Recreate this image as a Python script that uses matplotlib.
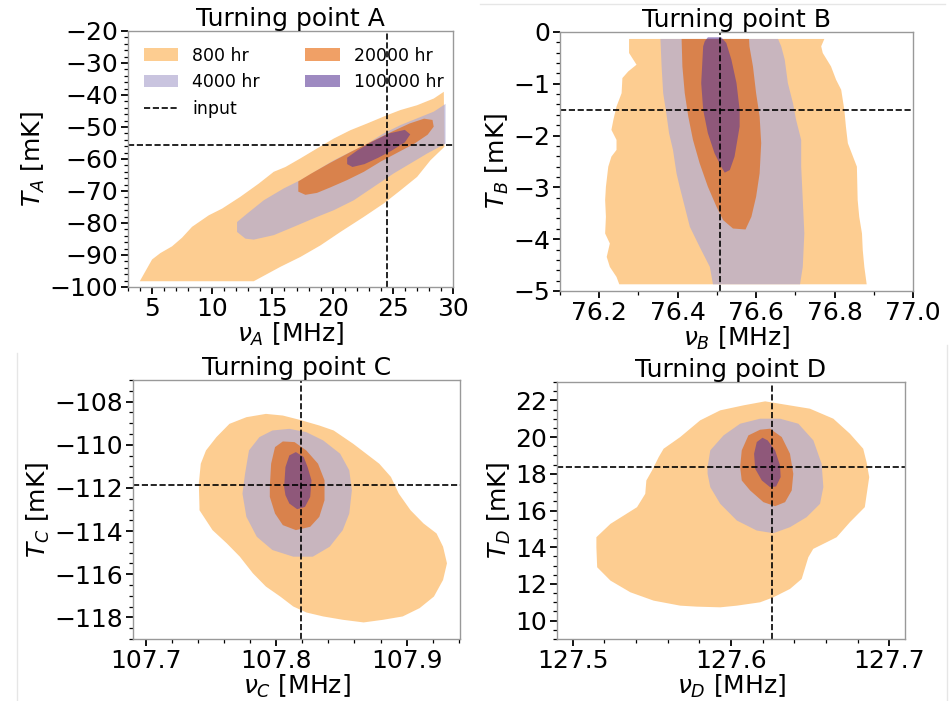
import numpy as np
import matplotlib
matplotlib.use("Agg")
import matplotlib.pyplot as plt
from matplotlib.ticker import MultipleLocator
from matplotlib.lines import Line2D

# integration times and their colours / alphas
labels = ["800 hr", "4000 hr", "20000 hr", "100000 hr"]
colors = ["#fdb863", "#b2abd2", "#e66101", "#5e3c99"]
alphas = [0.7, 0.7, 0.6, 0.6]

# input (true) values of the turning points
nu_in = [24.5, 76.507, 107.819, 127.6257]
T_in = [-55.5, -1.5, -111.85, 18.38]

# contour outlines, (nu, T) pairs
A_800 = [(3.98, -98.2), (5.0, -91.4), (5.69, -89.4), (6.66, -87.3), (7.49, -84.6), (8.32, -81.2),
         (9.71, -77.6), (10.82, -75.5), (12.34, -71.8), (13.86, -67.7), (15.11, -64.0), (16.08, -62.5),
         (17.33, -59.8), (18.71, -56.7), (20.10, -53.6), (21.48, -51.0), (22.87, -48.9), (24.53, -46.3),
         (25.64, -44.7), (27.02, -43.2), (28.41, -41.1), (29.24, -39.0), (29.29, -56.2), (28.13, -60.4),
         (27.02, -65.6), (25.64, -69.8), (24.25, -73.9), (22.59, -78.1), (20.65, -82.8), (18.99, -87.0),
         (17.33, -90.6), (15.66, -93.7), (13.45, -98.2)]
A_4000 = [(12.06, -79.7), (12.89, -77.1), (14.28, -72.9), (15.94, -69.2), (17.33, -66.6), (18.71, -63.5),
          (20.10, -60.4), (21.48, -57.8), (22.87, -55.2), (24.25, -52.0), (25.64, -49.4), (27.02, -47.3),
          (28.41, -45.2), (29.38, -42.8), (29.38, -55.2), (27.85, -58.3), (26.47, -61.4), (25.08, -64.5),
          (23.42, -68.7), (21.76, -72.9), (20.10, -76.0), (18.71, -78.1), (16.77, -81.2), (15.11, -83.8),
          (13.45, -85.2), (12.76, -84.9), (12.06, -82.8)]
A_20000 = [(17.15, -67.0), (18.20, -64.6), (19.80, -61.2), (21.50, -57.8), (23.20, -54.6), (24.90, -51.5),
           (26.40, -48.9), (27.60, -47.4), (28.30, -47.8), (28.40, -49.9), (27.90, -52.4), (26.80, -55.2),
           (25.40, -58.0), (24.00, -60.8), (22.60, -64.0), (21.20, -66.6), (19.80, -68.9), (18.70, -70.6),
           (17.74, -71.2), (17.15, -70.2)]
A_100000 = [(21.21, -59.6), (22.10, -57.2), (23.30, -54.6), (24.70, -52.0), (26.00, -50.9), (26.45, -52.3),
            (26.00, -54.8), (24.90, -57.4), (23.80, -59.6), (22.65, -61.6), (21.65, -62.5), (21.21, -61.6)]

B_800 = [(76.276, -0.135), (76.276, -0.406), (76.295, -0.632), (76.274, -0.761), (76.259, -0.890),
         (76.257, -1.181), (76.244, -1.439), (76.236, -1.697), (76.231, -1.890), (76.244, -2.084),
         (76.244, -2.277), (76.231, -2.406), (76.223, -2.600), (76.217, -2.987), (76.215, -3.245),
         (76.217, -3.568), (76.215, -3.890), (76.227, -4.084), (76.219, -4.342), (76.227, -4.535),
         (76.244, -4.729), (76.251, -4.871), (76.882, -4.871), (76.876, -4.535), (76.872, -4.213),
         (76.870, -3.890), (76.863, -3.568), (76.859, -3.245), (76.857, -2.600), (76.834, -2.148),
         (76.829, -1.826), (76.825, -1.503), (76.817, -1.116), (76.804, -0.923), (76.791, -0.665),
         (76.770, -0.406), (76.766, -0.277), (76.774, -0.135)]
B_4000 = [(76.356, -0.135), (76.359, -0.665), (76.363, -1.181), (76.371, -1.568), (76.378, -1.955),
          (76.388, -2.277), (76.397, -2.729), (76.405, -2.987), (76.418, -3.374), (76.431, -3.761),
          (76.456, -4.148), (76.482, -4.535), (76.490, -4.871), (76.712, -4.871), (76.719, -4.535),
          (76.723, -3.890), (76.719, -3.245), (76.715, -2.600), (76.715, -2.084), (76.702, -1.697),
          (76.694, -1.374), (76.681, -0.987), (76.673, -0.535), (76.664, -0.277), (76.656, -0.135)]
B_20000 = [(76.410, -0.135), (76.412, -0.665), (76.418, -1.181), (76.427, -1.632), (76.439, -2.084),
           (76.456, -2.535), (76.477, -2.987), (76.499, -3.374), (76.516, -3.632), (76.541, -3.794),
           (76.573, -3.813), (76.588, -3.568), (76.600, -3.181), (76.609, -2.729), (76.613, -2.148),
           (76.609, -1.632), (76.600, -1.181), (76.592, -0.665), (76.583, -0.277), (76.582, -0.135)]
B_100000 = [(76.469, -0.181), (76.465, -0.277), (76.460, -0.987), (76.465, -1.503), (76.477, -1.955),
            (76.494, -2.342), (76.511, -2.600), (76.520, -2.716), (76.533, -2.665), (76.545, -2.406),
            (76.558, -1.826), (76.558, -1.503), (76.550, -0.987), (76.537, -0.535), (76.524, -0.213),
            (76.511, -0.103), (76.477, -0.103)]

C_800 = [(107.741, -112.877), (107.7405, -111.80), (107.742, -110.877), (107.746, -110.262),
         (107.754, -109.646), (107.764, -109.031), (107.777, -108.723), (107.792, -108.569),
         (107.805, -108.646), (107.818, -108.846), (107.833, -109.108), (107.844, -109.338),
         (107.859, -109.954), (107.869, -110.415), (107.879, -110.877), (107.888, -111.492),
         (107.894, -112.262), (107.903, -113.031), (107.913, -113.646), (107.923, -114.108),
         (107.928, -114.723), (107.931, -115.492), (107.928, -116.262), (107.921, -117.031),
         (107.910, -117.569), (107.897, -117.954), (107.882, -118.108), (107.867, -118.231),
         (107.851, -118.108), (107.836, -117.954), (107.823, -117.769), (107.813, -117.492),
         (107.803, -117.031), (107.792, -116.569), (107.782, -115.954), (107.772, -115.185),
         (107.762, -114.569), (107.751, -113.954), (107.741, -113.031)]
C_4000 = [(107.774, -112.262), (107.776, -111.338), (107.779, -110.262), (107.787, -109.646),
          (107.797, -109.338), (107.810, -109.262), (107.823, -109.415), (107.836, -109.800),
          (107.849, -110.415), (107.856, -111.185), (107.858, -112.108), (107.856, -113.185),
          (107.851, -113.954), (107.841, -114.723), (107.828, -115.185), (107.813, -115.185),
          (107.797, -114.877), (107.785, -114.262), (107.777, -113.338)]
C_20000 = [(107.795, -111.954), (107.796, -110.877), (107.799, -110.108), (107.805, -109.846),
           (107.814, -109.877), (107.823, -110.262), (107.832, -110.877), (107.837, -111.646),
           (107.837, -112.569), (107.833, -113.338), (107.826, -113.800), (107.815, -113.954),
           (107.805, -113.723), (107.799, -113.185), (107.795, -112.415)]
C_100000 = [(107.806, -111.954), (107.807, -111.031), (107.810, -110.492), (107.815, -110.338),
            (107.821, -110.569), (107.824, -111.031), (107.827, -111.646), (107.826, -112.415),
            (107.822, -112.877), (107.816, -112.985), (107.810, -112.723), (107.807, -112.338)]

D_800 = [(127.5149, 14.545), (127.5238, 15.273), (127.5322, 15.727), (127.5406, 16.182), (127.5458, 16.909),
         (127.5465, 17.636), (127.5501, 18.182), (127.5543, 18.909), (127.5574, 19.364), (127.5679, 20.000),
         (127.5805, 20.909), (127.5932, 21.455), (127.6079, 21.727), (127.6216, 21.945), (127.6331, 21.782),
         (127.6499, 21.545), (127.6647, 21.000), (127.6752, 20.182), (127.6836, 19.364), (127.6857, 18.636),
         (127.6874, 17.818), (127.6846, 16.182), (127.6752, 15.364), (127.6668, 14.545), (127.6605, 14.273),
         (127.6520, 13.909), (127.6489, 13.455), (127.6447, 12.273), (127.6373, 11.727), (127.6268, 11.273),
         (127.6184, 11.000), (127.6037, 10.818), (127.5932, 10.727), (127.5784, 10.764), (127.5679, 10.818),
         (127.5511, 11.091), (127.5364, 11.545), (127.5238, 12.182), (127.5154, 12.909), (127.5149, 14.000)]
D_4000 = [(127.5852, 18.364), (127.5869, 19.273), (127.5953, 20.091), (127.6058, 20.727), (127.6184, 21.000),
          (127.6310, 21.000), (127.6426, 20.727), (127.6521, 19.818), (127.6573, 18.545), (127.6584, 17.273),
          (127.6563, 16.364), (127.6478, 15.636), (127.6373, 15.091), (127.6268, 14.764), (127.6163, 14.909),
          (127.6037, 15.455), (127.5932, 16.364), (127.5869, 17.273), (127.5852, 18.000)]
D_20000 = [(127.6058, 18.364), (127.6068, 19.273), (127.6110, 20.091), (127.6184, 20.400), (127.6247, 20.455),
           (127.6321, 20.000), (127.6373, 19.091), (127.6394, 18.000), (127.6384, 17.091), (127.6342, 16.455),
           (127.6279, 16.236), (127.6205, 16.455), (127.6121, 17.091), (127.6068, 17.636)]
D_100000 = [(127.6146, 19.091), (127.6163, 19.727), (127.6199, 19.964), (127.6232, 19.818), (127.6279, 19.273),
            (127.6310, 18.455), (127.6314, 17.818), (127.6285, 17.309), (127.6247, 17.273), (127.6195, 17.636),
            (127.6153, 18.273)]

panels = [
    dict(name="A", shapes=[A_800, A_4000, A_20000, A_100000], xlim=(3, 30), ylim=(-100, -20),
         xmaj=5, xmin=1, ymaj=10, ymin=2, rect=[0.1346, 0.5906, 0.3417, 0.3652]),
    dict(name="B", shapes=[B_800, B_4000, B_20000, B_100000], xlim=(76.1, 77.0), ylim=(-5, 0),
         xmaj=0.2, xmin=0.1, ymaj=1, ymin=0.2, rect=[0.5889, 0.5849, 0.3711, 0.3695]),
    dict(name="C", shapes=[C_800, C_4000, C_20000, C_100000], xlim=(107.69, 107.941), ylim=(-119, -107),
         xmaj=0.1, xmin=0.02, ymaj=2, ymin=0.5, rect=[0.1399, 0.0884, 0.3438, 0.3695]),
    dict(name="D", shapes=[D_800, D_4000, D_20000, D_100000], xlim=(127.49, 127.71), ylim=(9, 23),
         xmaj=0.1, xmin=0.02, ymaj=2, ymin=0.5, rect=[0.5857, 0.0884, 0.3659, 0.3667]),
]

fig = plt.figure(figsize=(9.51, 7.01), dpi=100)

for i, p in enumerate(panels):
    ax = fig.add_axes(p["rect"])
    for shp, lab, c, a in zip(p["shapes"], labels, colors, alphas):
        xs = [v[0] for v in shp]
        ys = [v[1] for v in shp]
        ax.fill(xs, ys, color=c, alpha=a, lw=0, label=lab)
    ax.axvline(nu_in[i], color="k", ls="--", lw=1.2)
    ax.axhline(T_in[i], color="k", ls="--", lw=1.2, label="input")
    ax.set_xlim(p["xlim"])
    ax.set_ylim(p["ylim"])
    ax.xaxis.set_major_locator(MultipleLocator(p["xmaj"]))
    ax.xaxis.set_minor_locator(MultipleLocator(p["xmin"]))
    ax.yaxis.set_major_locator(MultipleLocator(p["ymaj"]))
    ax.yaxis.set_minor_locator(MultipleLocator(p["ymin"]))
    ax.tick_params(which="major", direction="out", length=5, width=1.3, labelsize=18, pad=2)
    ax.tick_params(which="minor", direction="out", length=3, width=0.9)
    for s in ax.spines.values():
        s.set_color("#999999")
        s.set_linewidth(1.0)
    ax.set_title("Turning point %s" % p["name"], fontsize=18, pad=3)
    ax.set_xlabel(r"$\nu_%s$ [MHz]" % p["name"], fontsize=18, labelpad=0)
    ax.set_ylabel(r"$T_%s$ [mK]" % p["name"], fontsize=18, labelpad=2)
    if p["name"] == "A":
        h, l = ax.get_legend_handles_labels()
        order = [l.index(k) for k in ["800 hr", "4000 hr", "input", "20000 hr", "100000 hr"]]
        ax.legend([h[k] for k in order], [l[k] for k in order], loc="upper left", ncol=2,
                  frameon=False, fontsize=12.5, columnspacing=2.6)

# faint edges left over from the pasted panels
fig.add_artist(Line2D([480 / 951, 945 / 951], [1 - 4 / 701, 1 - 4 / 701], color="#e6e6e6", lw=1))
fig.add_artist(Line2D([17 / 951, 17 / 951], [0, 1 - 353 / 701], color="#e6e6e6", lw=1))
fig.add_artist(Line2D([947 / 951, 947 / 951], [0, 1 - 345 / 701], color="#e6e6e6", lw=1))

plt.savefig("out.png", dpi=100)
plt.close()
